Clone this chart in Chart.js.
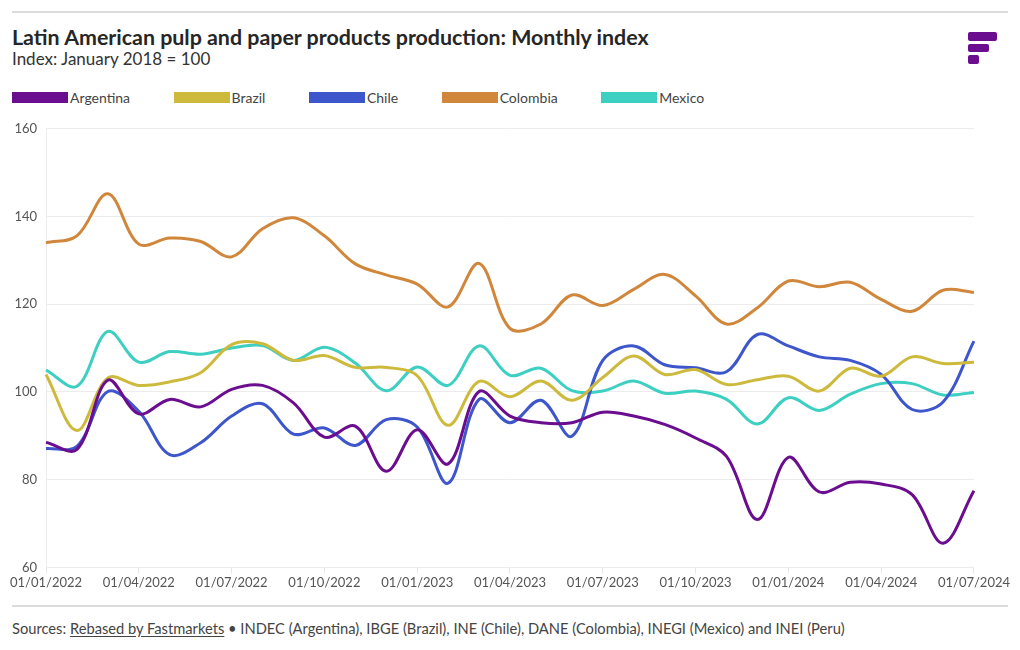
<!DOCTYPE html>
<html>
<head>
<meta charset="utf-8">
<script src="https://cdn.jsdelivr.net/npm/chart.js@4"></script>
<style>
    body { margin: 0; background: #fff; font-family: Lato, "Noto Sans", sans-serif; color: #222; }
    #page { position: relative; width: 1020px; height: 650px; overflow: hidden; }
    .rule { position: absolute; left: 12px; width: 996px; height: 2px; background: #dcdcdc; }
    #title { position: absolute; left: 12px; top: 24px; font-size: 21.4px; font-weight: 700; color: #262626; }
    #subtitle { position: absolute; left: 12px; top: 48px; font-size: 17px; color: #333; }
    #logo div { position: absolute; background: #6b0d8f; border-radius: 2px; }
    #legend { position: absolute; left: 12px; top: 89px; display: flex; font-size: 14px; color: #444; }
    #legend .item { display: flex; align-items: center; margin-right: 43.5px; }
    #legend .sw { width: 56px; height: 11px; margin-right: 2px; }
    #wrap { position: absolute; left: 0; top: 112px; width: 1012px; height: 481px; }
    #source { position: absolute; left: 12px; top: 619px; font-size: 14.7px; color: #444; }
    #source u { text-underline-offset: 2px; }
</style>
</head>
<body>
<div id="page">
    <div class="rule" style="top:11px"></div>
    <div id="title">Latin American pulp and paper products production: Monthly index</div>
    <div id="subtitle">Index: January 2018 = 100</div>
    <div id="logo">
        <div style="left:968px;top:32px;width:29px;height:9px"></div>
        <div style="left:968px;top:44px;width:21px;height:8px"></div>
        <div style="left:968px;top:55px;width:11px;height:9px"></div>
    </div>
    <div id="legend"></div>
    <div id="wrap"><canvas id="chart"></canvas></div>
    <div class="rule" style="top:605px"></div>
    <div id="source">Sources: <u>Rebased by Fastmarkets</u> &bull; INDEC (Argentina), IBGE (Brazil), INE (Chile), DANE (Colombia), INEGI (Mexico) and INEI (Peru)</div>
</div>
<script>
    // Monthly, 01/2022 .. 07/2024
    var months = [
        "01/01/2022", "01/02/2022", "01/03/2022", "01/04/2022", "01/05/2022", "01/06/2022",
        "01/07/2022", "01/08/2022", "01/09/2022", "01/10/2022", "01/11/2022", "01/12/2022",
        "01/01/2023", "01/02/2023", "01/03/2023", "01/04/2023", "01/05/2023", "01/06/2023",
        "01/07/2023", "01/08/2023", "01/09/2023", "01/10/2023", "01/11/2023", "01/12/2023",
        "01/01/2024", "01/02/2024", "01/03/2024", "01/04/2024", "01/05/2024", "01/06/2024",
        "01/07/2024"
    ];

    var argentina = [88.5, 86.9, 102.7, 95.0, 98.3, 96.6, 100.6, 101.5, 97.5, 89.7, 92.2, 81.9,
        91.4, 83.6, 100.1, 94.5, 93.0, 93.0, 95.4, 94.5, 92.6, 89.5, 85.3, 70.9,
        85.1, 77.2, 79.4, 79.0, 76.6, 65.5, 77.5];
    var brazil = [104.0, 91.2, 103.2, 101.5, 102.3, 104.4, 110.8, 111.0, 107.2, 108.3, 105.6, 105.6,
        103.7, 92.4, 102.4, 98.9, 102.5, 98.1, 103.3, 108.2, 104.0, 105.1, 101.7, 102.8,
        103.6, 100.2, 105.4, 103.6, 108.0, 106.5, 106.8];
    var chile = [87.1, 87.6, 100.1, 95.6, 85.7, 88.4, 94.5, 97.3, 90.4, 91.8, 87.8, 93.7,
        92.0, 79.2, 98.3, 93.0, 98.1, 89.9, 107.2, 110.5, 106.2, 105.5, 104.6, 113.1,
        110.5, 108.0, 107.2, 104.0, 96.0, 97.7, 111.6];
    var colombia = [134.0, 135.6, 145.2, 133.7, 135.1, 134.3, 130.8, 137.2, 139.7, 135.6, 129.2, 126.7,
        124.6, 119.4, 129.3, 114.5, 115.5, 122.1, 119.7, 123.4, 126.8, 121.9, 115.5, 119.2,
        125.3, 124.0, 125.0, 121.1, 118.4, 123.2, 122.7];
    var mexico = [105.0, 101.3, 113.8, 106.8, 109.2, 108.6, 110.0, 110.6, 107.2, 110.2, 106.6, 100.3,
        105.7, 101.5, 110.5, 103.8, 105.4, 100.3, 100.2, 102.5, 99.7, 100.2, 98.3, 92.7,
        98.7, 95.8, 99.5, 101.9, 101.9, 99.3, 99.9];

    var series = [
        { label: "Argentina", data: argentina, color: "#6b0d8f" },
        { label: "Brazil", data: brazil, color: "#cdba3c" },
        { label: "Chile", data: chile, color: "#3e56cb" },
        { label: "Colombia", data: colombia, color: "#d0873c" },
        { label: "Mexico", data: mexico, color: "#3dcfc2" }
    ];

    var legend = document.getElementById("legend");
    series.forEach(function (s) {
        var item = document.createElement("div");
        item.className = "item";
        item.innerHTML = '<span class="sw" style="background:' + s.color + '"></span>' + s.label;
        legend.appendChild(item);
    });

    Chart.defaults.font.family = "Lato, 'Noto Sans', sans-serif";
    Chart.defaults.font.size = 13;
    Chart.defaults.color = "#555";

    new Chart(document.getElementById("chart"), {
        type: "line",
        data: {
            labels: months,
            datasets: series.map(function (s) {
                return {
                    label: s.label,
                    data: s.data,
                    borderColor: s.color,
                    borderWidth: 3,
                    pointRadius: 0,
                    tension: 0.35,
                    fill: false
                };
            })
        },
        options: {
            responsive: true,
            maintainAspectRatio: false,
            animation: false,
            layout: { padding: { left: 12, right: 10, top: 3, bottom: 0 } },
            plugins: { legend: { display: false }, tooltip: { enabled: false } },
            scales: {
                x: {
                    offset: false,
                    grid: { drawOnChartArea: false, drawTicks: true, tickLength: 6, color: "#e6e6e6" },
                    border: { display: false },
                    ticks: {
                        autoSkip: false,
                        maxRotation: 0,
                        padding: 2,
                        callback: function (v, i) {
                            return i % 3 === 0 ? months[i] : null;
                        }
                    }
                },
                y: {
                    min: 60,
                    max: 160,
                    afterFit: function (scale) { scale.width = 34; },
                    grid: { color: "#ececec", drawTicks: false },
                    border: { display: true, color: "#ececec" },
                    ticks: { stepSize: 20, padding: 9 }
                }
            }
        }
    });
</script>
</body>
</html>
